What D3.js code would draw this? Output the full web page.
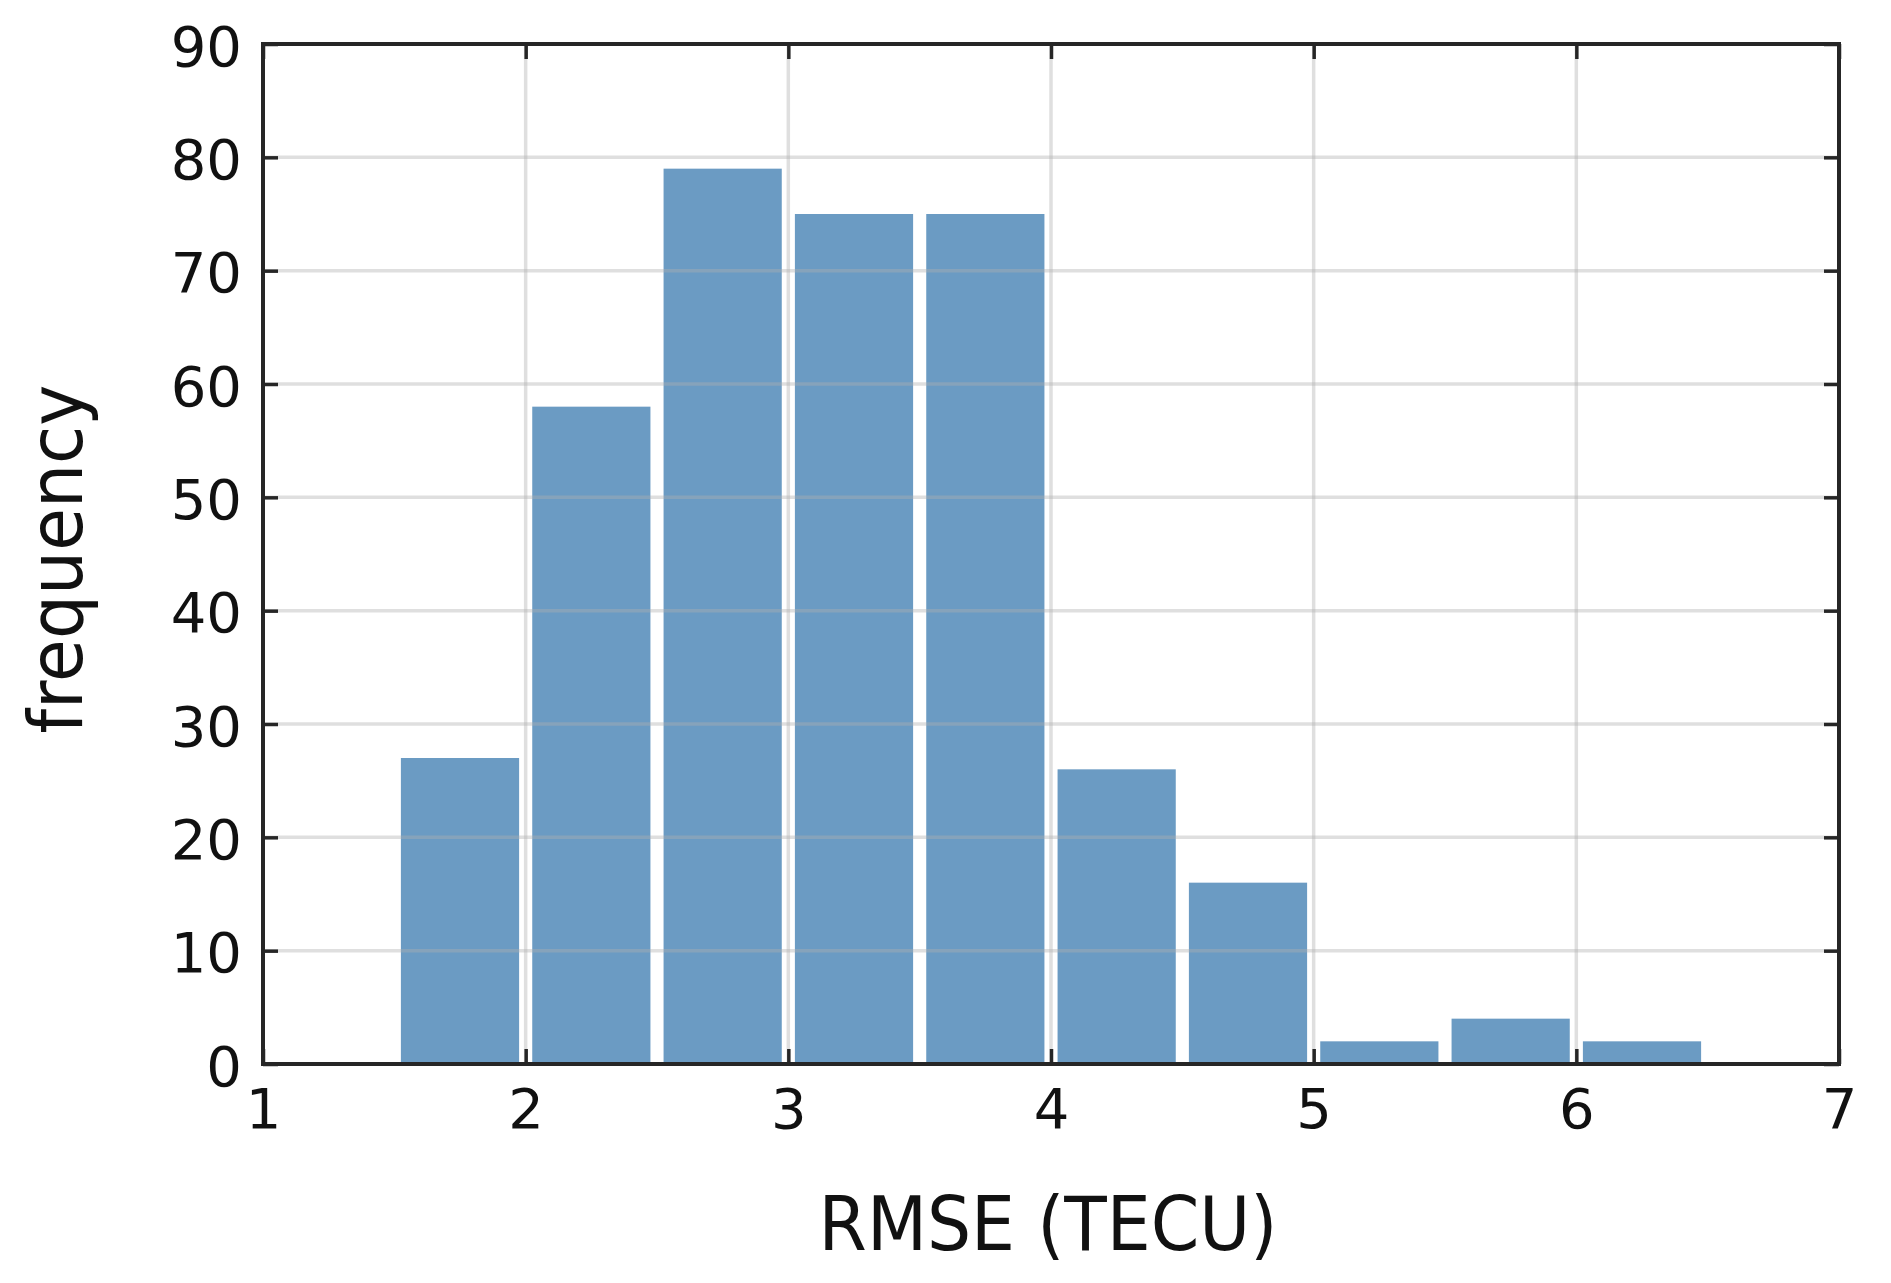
<!DOCTYPE html>
<html>
<head>
<meta charset="utf-8">
<script src="https://cdn.jsdelivr.net/npm/d3@7"></script>
<style>
  body { margin: 0; background: #fff; }
  text { font-family: "DejaVu Sans", sans-serif; fill: #111; }
</style>
</head>
<body>
<div id="chart"></div>
<script>
// histogram bins (RMSE, TECU) and counts
var binEdges = [1.5, 2, 2.5, 3, 3.5, 4, 4.5, 5, 5.5, 6, 6.5];
var counts = [27, 58, 79, 75, 75, 26, 16, 2, 4, 2];
var xTicks = [1, 2, 3, 4, 5, 6, 7];
var yTicks = [0, 10, 20, 30, 40, 50, 60, 70, 80, 90];

var margin = {top: 44, right: 52, bottom: 219, left: 263},
    width = 1891 - margin.left - margin.right,
    height = 1283 - margin.top - margin.bottom;

var x = d3.scaleLinear().domain([1, 7]).range([0, width]);
var y = d3.scaleLinear().domain([0, 90]).range([height, 0]);

var svg = d3.select("#chart").append("svg")
    .attr("width", width + margin.left + margin.right)
    .attr("height", height + margin.top + margin.bottom)
    .style("display", "block")
  .append("g")
    .attr("transform", "translate(" + margin.left + "," + margin.top + ")");

var bins = counts.map(function(c, i) {
  return {x0: binEdges[i], x1: binEdges[i + 1], n: c};
});

var rwidth = 0.9;

svg.selectAll(".bar")
    .data(bins)
  .enter().append("rect")
    .attr("class", "bar")
    .attr("x", function(d) {
      var w = x(d.x1) - x(d.x0);
      return x(d.x0) + w * (1 - rwidth) / 2;
    })
    .attr("width", function(d) { return (x(d.x1) - x(d.x0)) * rwidth; })
    .attr("y", function(d) { return y(d.n); })
    .attr("height", function(d) { return height - y(d.n); })
    .attr("fill", "steelblue")
    .attr("fill-opacity", 0.8);

// grid on top of the bars
var grid = svg.append("g").attr("class", "grid")
    .attr("stroke", "#b0b0b0")
    .attr("stroke-opacity", 0.4)
    .attr("stroke-width", 3.5);

grid.selectAll(".gx")
    .data(xTicks.slice(1, -1))
  .enter().append("line")
    .attr("x1", function(d) { return x(d); })
    .attr("x2", function(d) { return x(d); })
    .attr("y1", 0)
    .attr("y2", height);

grid.selectAll(".gy")
    .data(yTicks.slice(1, -1))
  .enter().append("line")
    .attr("y1", function(d) { return y(d); })
    .attr("y2", function(d) { return y(d); })
    .attr("x1", 0)
    .attr("x2", width);

// axes with inward ticks on all sides
var tickLen = 15;

function styleAxis(g) {
  g.select(".domain").remove();
  g.selectAll(".tick line").attr("stroke", "#262626").attr("stroke-width", 3.5);
  g.selectAll(".tick text").attr("font-size", 56).attr("fill", "#111");
}

svg.append("g")
    .attr("transform", "translate(0," + height + ")")
    .call(d3.axisBottom(x).tickValues(xTicks).tickFormat(d3.format("d"))
      .tickSizeInner(-tickLen).tickPadding(22))
    .call(styleAxis)
    .selectAll(".tick text").attr("dy", "0.75em");

svg.append("g")
    .call(d3.axisLeft(y).tickValues(yTicks).tickFormat(d3.format("d"))
      .tickSizeInner(-tickLen).tickPadding(21))
    .call(styleAxis)
    .selectAll(".tick text").attr("dy", "0.38em");

svg.append("g")
    .call(d3.axisTop(x).tickValues(xTicks).tickSizeInner(-tickLen).tickFormat(""))
    .call(styleAxis);

svg.append("g")
    .attr("transform", "translate(" + width + ",0)")
    .call(d3.axisRight(y).tickValues(yTicks).tickSizeInner(-tickLen).tickFormat(""))
    .call(styleAxis);

// frame
svg.append("rect")
    .attr("width", width)
    .attr("height", height)
    .attr("fill", "none")
    .attr("stroke", "#262626")
    .attr("stroke-width", 4);

// axis titles, a bit narrower than the plain font
function squeeze(t) {
  t.attr("textLength", t.node().getComputedTextLength() * 0.94)
   .attr("lengthAdjust", "spacingAndGlyphs");
}

svg.append("text")
    .attr("x", width / 2 - 3)
    .attr("y", height + 186)
    .attr("text-anchor", "middle")
    .attr("font-size", 74)
    .text("RMSE (TECU)")
    .call(squeeze);

svg.append("text")
    .attr("transform", "rotate(-90)")
    .attr("x", -height / 2 - 5)
    .attr("y", -181)
    .attr("text-anchor", "middle")
    .attr("font-size", 74)
    .text("frequency")
    .call(squeeze);
</script>
</body>
</html>
